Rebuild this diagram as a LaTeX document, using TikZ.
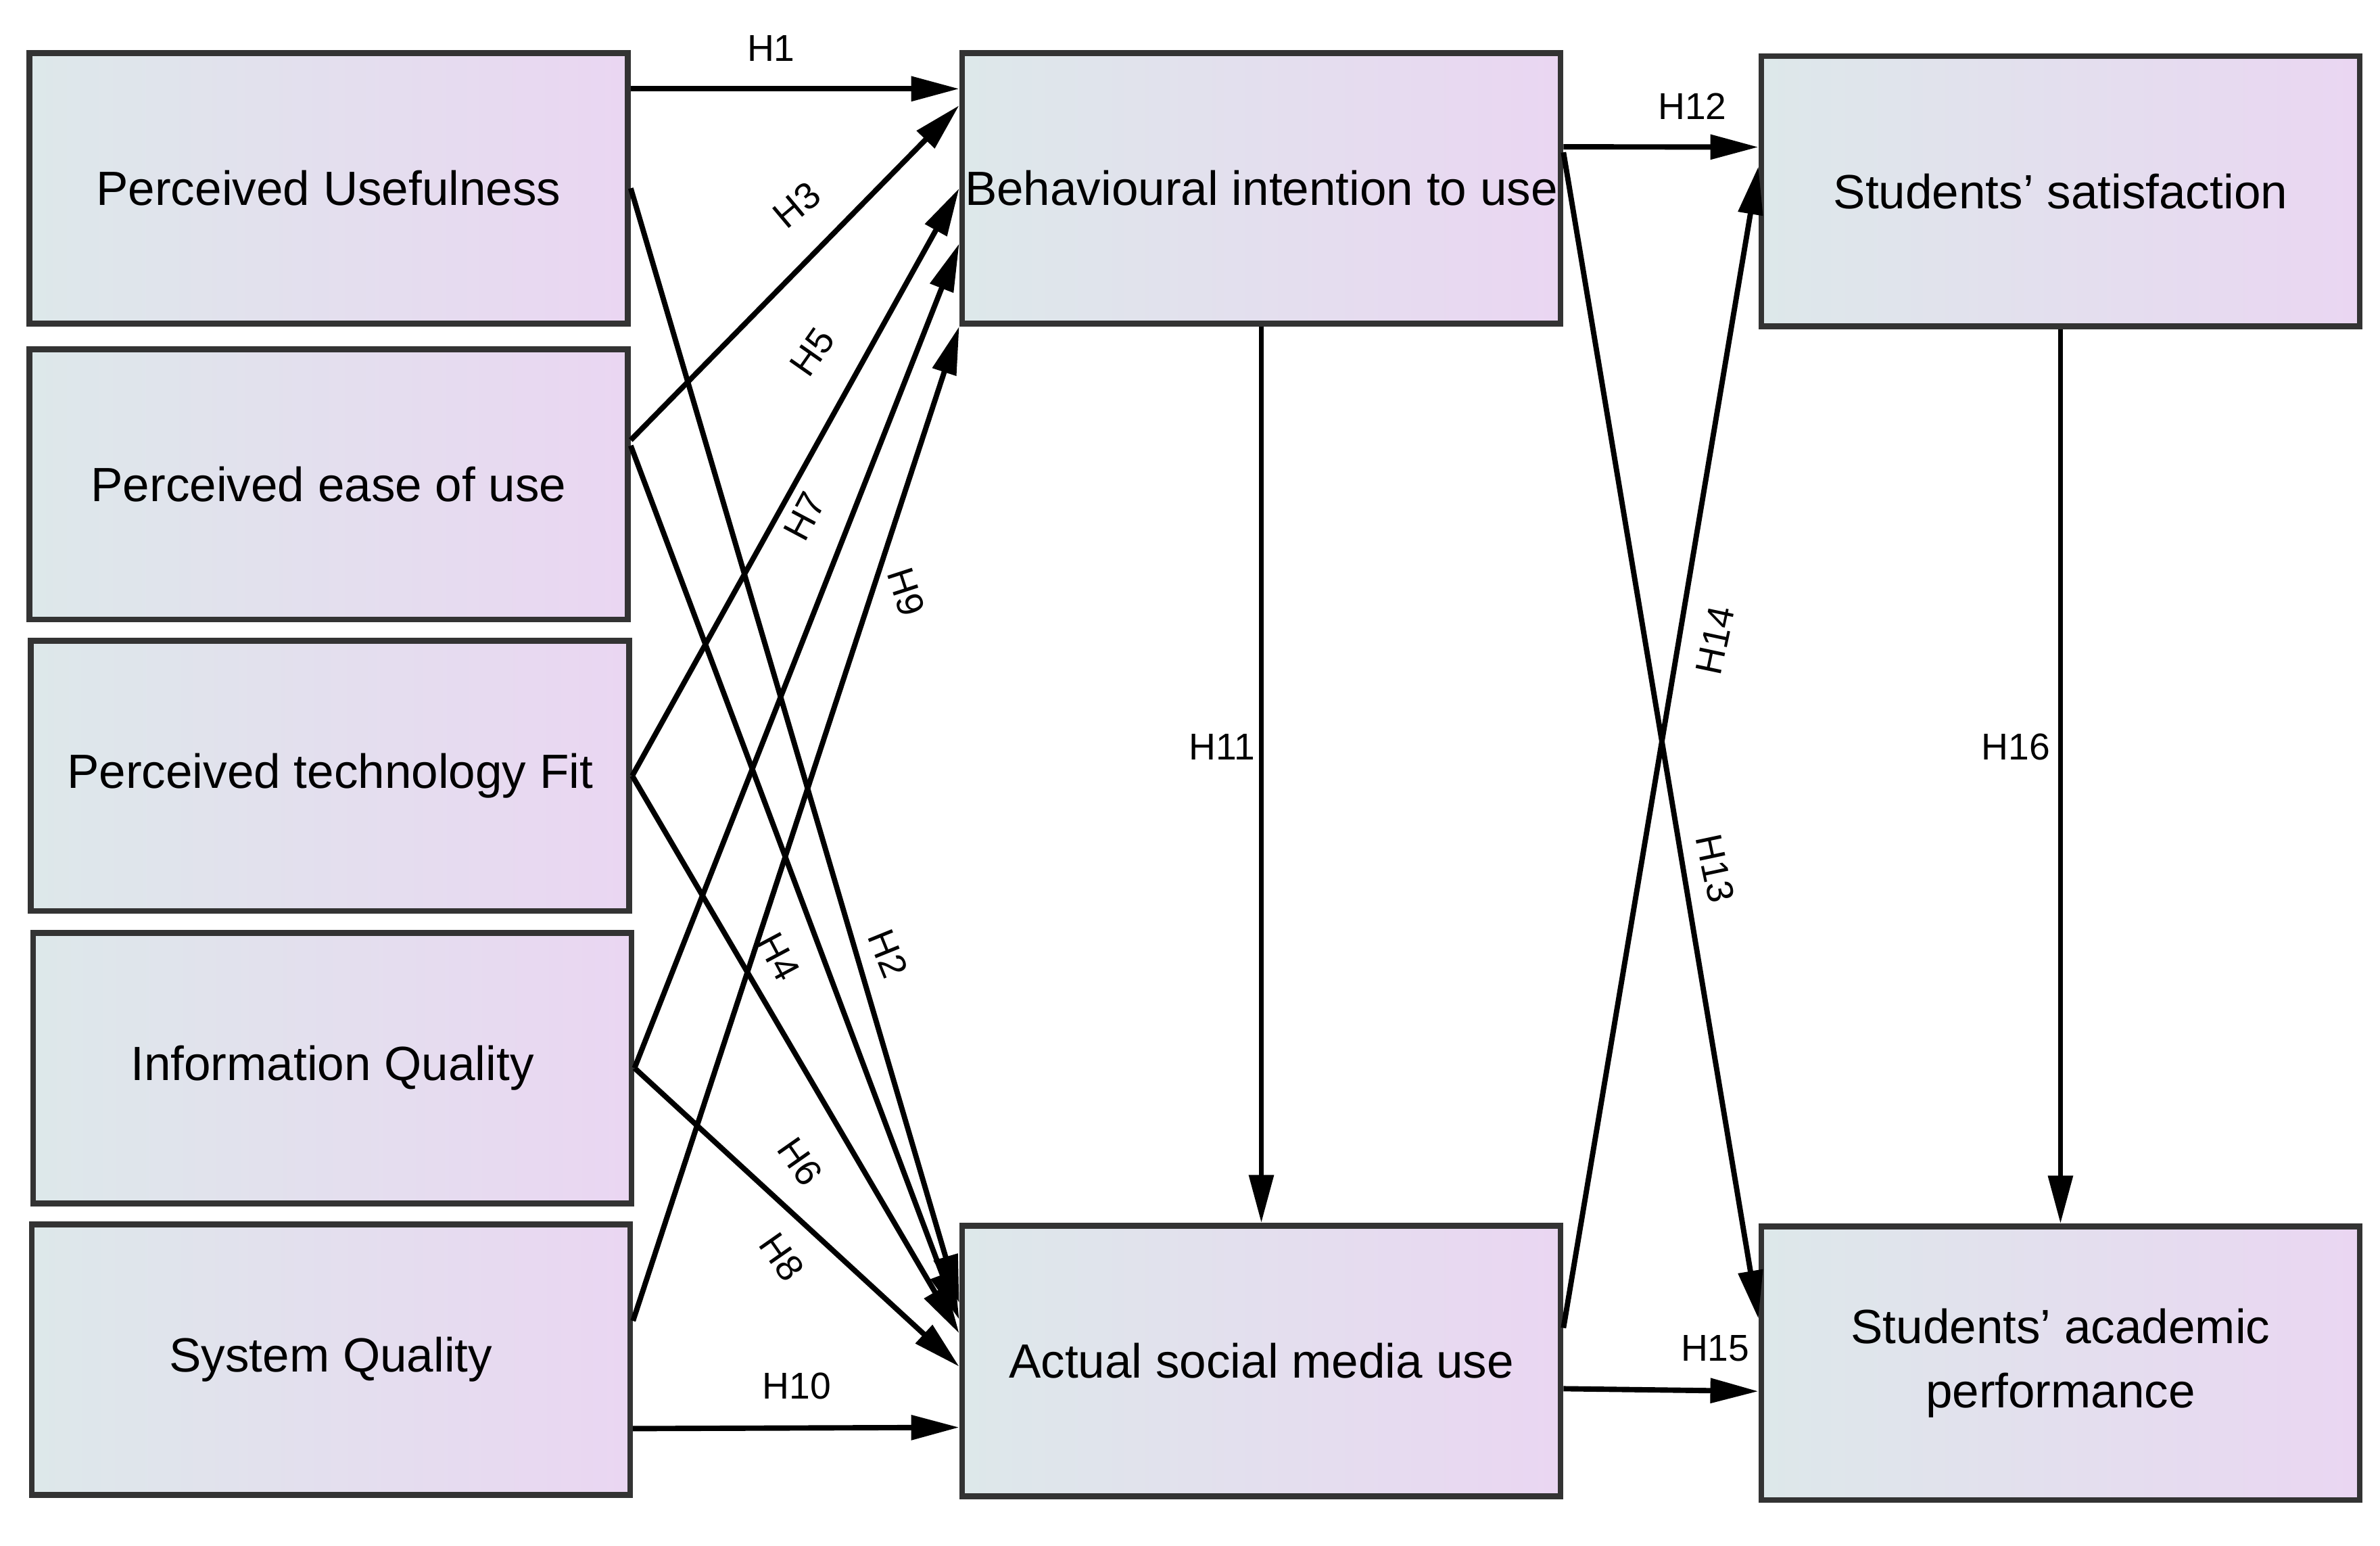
\documentclass[tikz,border=0pt]{standalone}
\usepackage{fontspec}
\setmainfont{Liberation Sans}
\usetikzlibrary{arrows.meta,calc}
\definecolor{lc}{HTML}{DDE8EA}
\definecolor{rc}{HTML}{EAD6F2}
\begin{document}
\begin{tikzpicture}[x=0.01cm,y=-0.01cm,
 box/.style={draw=black!80,line width=1.1pt,left color=lc,right color=rc,minimum width=3.94cm,minimum height=1.78cm,inner sep=0pt,font=\fontsize{9}{12}\selectfont,align=center},
 ar/.style={line width=1pt,-{Triangle[length=9pt,width=4.5pt]}},
 lb/.style={font=\fontsize{7}{9}\selectfont}]
\useasboundingbox (0,0) rectangle (1568,1018);
\node[box] (pu) at (216.5,124) {Perceived Usefulness};
\node[box] (pe) at (216.5,319) {Perceived ease of use};
\node[box] (pt) at (217.5,511) {Perceived technology Fit};
\node[box] (iq) at (219,703.5) {Information Quality};
\node[box] (sq) at (218,895.5) {System Quality};
\node[box] (bi) at (831,124) {Behavioural intention to use};
\node[box] (am) at (831,896.5) {Actual social media use};
\node[box] (ss) at (1357.5,126) {Students' satisfaction};
\node[box,minimum height=1.8cm] (sp) at (1357.5,898) {Students’ academic\\performance};
\newcommand{\pw}[2]{($(#1.north west)!#2!(#1.south west)$)}
\newcommand{\pe}[2]{($(#1.north east)!#2!(#1.south east)$)}
\draw[ar] \pe{pu}{0.14} -- \pw{bi}{0.14};
\draw[ar] \pe{pe}{0.34} -- \pw{bi}{0.2};
\draw[ar] (pt.east) -- \pw{bi}{0.5};
\draw[ar] (iq.east) -- \pw{bi}{0.7};
\draw[ar] \pe{sq}{0.36} -- \pw{bi}{1.0};
\draw[ar] (pu.east) -- \pw{am}{0.29};
\draw[ar] \pe{pe}{0.36} -- \pw{am}{0.35};
\draw[ar] (pt.east) -- \pw{am}{0.4};
\draw[ar] (iq.east) -- \pw{am}{0.52};
\draw[ar] \pe{sq}{0.75} -- \pw{am}{0.74};
\draw[ar] (bi.south) -- (am.north);
\draw[ar] \pe{bi}{0.35} -- \pw{ss}{0.34};
\draw[ar] \pe{bi}{0.37} -- \pw{sp}{0.34};
\draw[ar] \pe{am}{0.38} -- \pw{ss}{0.41};
\draw[ar] \pe{am}{0.6} -- \pw{sp}{0.6};
\draw[ar] (ss.south) -- (sp.north);
\node[lb] (h1) at (508,32) {H1};
\node[lb,rotate=40] (h3) at (525,135) {H3};
\node[lb,rotate=55] (h5) at (535,232) {H5};
\node[lb,rotate=62] (h7) at (530,340) {H7};
\node[lb,rotate=-72] (h9) at (597,390) {H9};
\node[lb,rotate=-68] (h2) at (585,628) {H2};
\node[lb,rotate=-62] (h4) at (513,630) {H4};
\node[lb,rotate=-55] (h6) at (527,765) {H6};
\node[lb,rotate=-55] (h8) at (515,828) {H8};
\node[lb] (h10) at (525,913) {H10};
\node[lb] (h11) at (805,492) {H11};
\node[lb] (h12) at (1115,70) {H12};
\node[lb,rotate=-78] (h13) at (1130,572) {H13};
\node[lb,rotate=78] (h14) at (1130,422) {H14};
\node[lb] (h15) at (1130,888) {H15};
\node[lb] (h16) at (1328,492) {H16};
\end{tikzpicture}
\end{document}
